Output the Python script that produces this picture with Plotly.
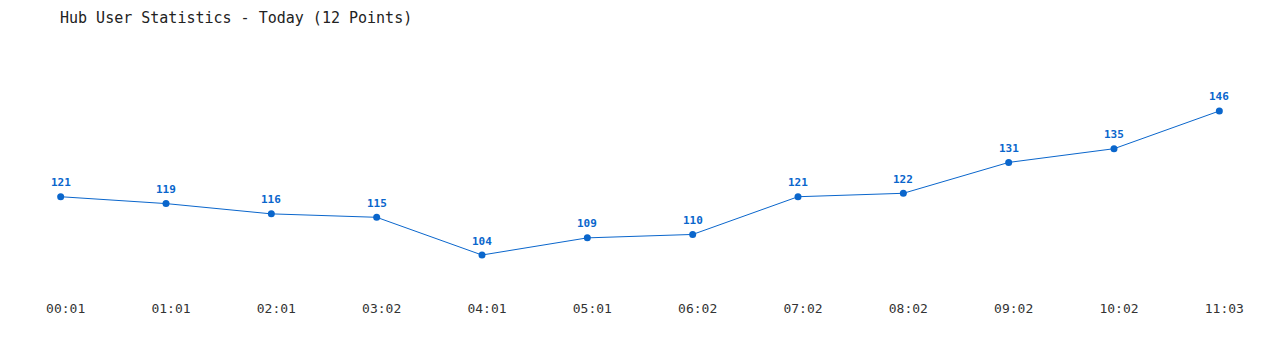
import plotly.graph_objects as go

times = ["00:01", "01:01", "02:01", "03:02", "04:01", "05:01", "06:02", "07:02", "08:02", "09:02", "10:02", "11:03"]
users = [121, 119, 116, 115, 104, 109, 110, 121, 122, 131, 135, 146]

BLUE = "#0a66cc"
FONT = "DejaVu Sans Mono"

idx = list(range(len(times)))

fig = go.Figure(
    go.Scatter(
        x=idx,
        y=users,
        mode="lines+markers",
        line=dict(color=BLUE, width=1),
        marker=dict(color=BLUE, size=7),
        cliponaxis=False,
        hoverinfo="x+y",
    )
)

for i, v in zip(idx, users):
    fig.add_annotation(
        x=i, y=v, text=str(v), showarrow=False,
        xanchor="center", yanchor="middle", yshift=14,
        font=dict(family=FONT, size=11, color=BLUE, weight="bold"),
    )

fig.update_layout(
    width=1280,
    height=350,
    margin=dict(l=8, r=8, t=40, b=60),
    paper_bgcolor="white",
    plot_bgcolor="white",
    showlegend=False,
    title=dict(
        text="Hub User Statistics - Today (12 Points)",
        x=60 / 1280,
        xanchor="left",
        y=1 - 18 / 350,
        yanchor="middle",
        font=dict(family=FONT, size=15, color="#222"),
    ),
    xaxis=dict(
        range=[-0.5, 11.5],
        tickmode="array",
        tickvals=idx,
        ticktext=times,
        showgrid=False,
        zeroline=False,
        showline=False,
        ticks="",
        ticklabelshift=5,
        ticklabelstandoff=9,
        tickfont=dict(family=FONT, size=13, color="#333"),
    ),
    yaxis=dict(
        range=[93.8, 166.7],
        visible=False,
        showgrid=False,
        zeroline=False,
    ),
)

fig.write_html("out.html")
